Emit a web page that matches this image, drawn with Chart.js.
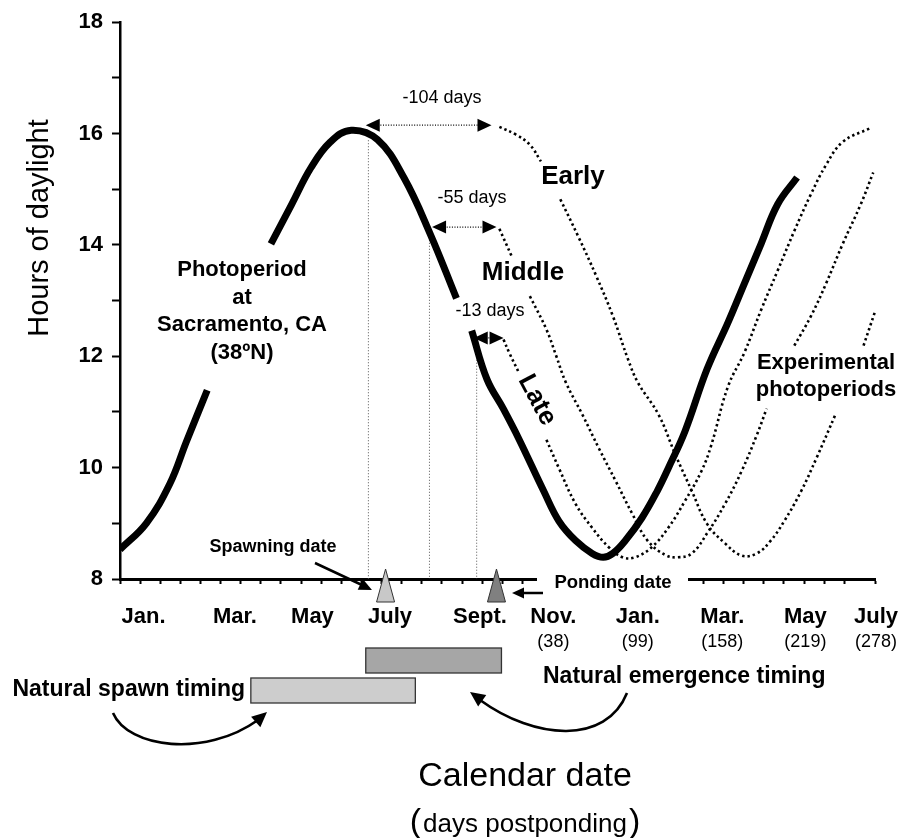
<!DOCTYPE html>
<html>
<head>
<meta charset="utf-8">
<script src="https://cdn.jsdelivr.net/npm/chart.js@4.4.1/dist/chart.umd.min.js"></script>
<style>
  html, body { margin: 0; background: #fff; }
  #wrap { width: 917px; height: 838px; }
</style>
</head>
<body>
<div id="wrap"><canvas id="photoChart"></canvas></div>
<script>
/* ============================================================
   Photoperiod at Sacramento + experimental shifted photoperiods
   x = days from 1 Jan (year 1), y = hours of daylight
============================================================ */

// --- axis labels ---
const monthTickDays = [17, 83, 139, 195, 260, 313, 374, 435, 495, 546];
const monthLabels   = ['Jan.', 'Mar.', 'May', 'July', 'Sept.', 'Nov.', 'Jan.', 'Mar.', 'May', 'July'];
const postDayTicks  = [313, 374, 435, 495, 546];
const postDayLabels = ['(38)', '(99)', '(158)', '(219)', '(278)'];

// --- Sacramento photoperiod (solid), null = gap under a label ---
const sacDays  = [0, 19, 36, 48, 63, 86, 109, 124, 138, 152, 167, 186, 205, 224, 243, 249,
                  254, 265, 277, 288, 306, 317, 329, 341, 349, 356, 365, 377, 388, 396, 408,
                  424, 439, 451, 463, 475, 489];
const sacHours = [8.53, 9.0, 9.71, 10.47, 11.39, null, 14.02, 14.73, 15.39, 15.85, 16.06, 15.89,
                  15.21, 14.2, 13.04, null, 12.46, 11.59, 11.05, 10.52, 9.58, 9.04, 8.69, 8.46,
                  8.39, 8.46, 8.69, 9.1, 9.58, 9.99, 10.65, 11.77, 12.6, 13.31, 14.02, 14.73, 15.21];

// --- experimental photoperiods (dotted) ---
const earlyDays  = [274, 286, 296, 304, 311, 318, 331, 344, 356, 367, 374, 389, 401, 413, 424,
                    437, 449, 460, 470, 480, 492, 503, 517, 527, 537, 545];
const earlyHours = [16.12, 15.98, 15.8, 15.5, null, 14.82, 14.15, 13.44, 12.72, 11.94, 11.53,
                    10.95, 10.24, 9.58, 8.99, 8.64, 8.42, 8.46, 8.69, 9.05, 9.58, 10.17, 10.97,
                    null, 12.19, 12.78];

const midDays  = [274, 283, 289, 296, 308, 315, 322, 334, 346, 358, 370, 381, 394, 403, 413,
                  424, 437, 449, 460, 467, 477, 487, 499, 510, 522, 535, 544];
const midHours = [14.29, 13.79, null, 13.08, 12.48, 12.01, 11.53, 10.95, 10.34, 9.76, 9.17,
                  8.69, 8.43, 8.39, 8.46, 8.82, 9.35, 9.94, 10.59, 11.06, null, 12.19, 12.72,
                  13.31, 14.02, 14.73, 15.3];

const lateDays  = [277, 281, 288, 298, 308, 317, 329, 341, 353, 363, 372, 384, 396, 408, 420,
                   427, 439, 451, 463, 475, 487, 499, 510, 522, 542];
const lateHours = [12.3, 12.07, 11.71, null, 10.5, 9.99, 9.35, 8.92, 8.57, 8.39, 8.39, 8.57,
                   8.92, 9.4, 9.94, 10.4, 11.45, 12.07, 12.83, 13.54, 14.25, 14.91, 15.44,
                   15.85, 16.1];

// --- thin drop lines from the solid curve to the axis ---
const dropDays  = [179.4, 223.5, 257.6];
const dropHours = [15.88, 14.2, 12.1];

// --- shift arrows (start day, end day, level, label) ---
const shiftFrom   = [177.5, 225.4, 255.5];
const shiftTo     = [268.3, 271.9, 277.0];
const shiftLevel  = [16.15, 14.32, 12.33];
const shiftLabels = ['-104 days', '-55 days', '-13 days'];

// --- date markers and timing bars ---
const spawnDay     = 191.8;
const pondDay      = 271.9;
const spawnRange   = [94.5, 213.3];
const emergeRange  = [177.5, 275.5];

const FONT = '"Liberation Sans", Arial, Helvetica, sans-serif';

const pts = (xs, ys) => xs.map((x, i) => ({ x: x, y: ys[i] }));

function curve(xs, ys, dotted) {
  return {
    data: pts(xs, ys),
    borderColor: '#000',
    borderWidth: dotted ? 2.6 : 7,
    borderDash: dotted ? [2.4, 3] : [],
    borderCapStyle: 'butt',
    borderJoinStyle: 'round',
    pointRadius: 0,
    fill: false,
    spanGaps: false,
    tension: 0.4
  };
}

const drops = dropDays.map((d, i) => ({
  data: [{ x: d, y: dropHours[i] }, { x: d, y: 8 }],
  borderColor: '#555',
  borderWidth: 1,
  borderDash: [1, 2],
  pointRadius: 0,
  tension: 0
}));

function label(ctx, s, x, y, size, bold, rot) {
  ctx.save();
  ctx.translate(x, y);
  if (rot) ctx.rotate(rot);
  ctx.font = (bold ? 'bold ' : '') + size + 'px ' + FONT;
  ctx.fillStyle = '#000';
  ctx.textAlign = 'center';
  ctx.textBaseline = 'middle';
  ctx.fillText(s, 0, 0);
  ctx.restore();
}

function head(ctx, x, y, ang, len, half) {
  ctx.save();
  ctx.translate(x, y);
  ctx.rotate(ang);
  ctx.beginPath();
  ctx.moveTo(0, 0);
  ctx.lineTo(-len, -half);
  ctx.lineTo(-len, half);
  ctx.closePath();
  ctx.fillStyle = '#000';
  ctx.fill();
  ctx.restore();
}

function triangle(ctx, cx, fill) {
  ctx.beginPath();
  ctx.moveTo(cx, 569);
  ctx.lineTo(cx + 9, 602);
  ctx.lineTo(cx - 9, 602);
  ctx.closePath();
  ctx.fillStyle = fill;
  ctx.fill();
  ctx.lineWidth = 1;
  ctx.strokeStyle = '#333';
  ctx.stroke();
}

const annotate = {
  id: 'annotate',
  afterDraw(chart) {
    const ctx = chart.ctx;
    const xs = chart.scales.x, ys = chart.scales.y;

    // shift arrows
    shiftFrom.forEach((d, i) => {
      const x0 = xs.getPixelForValue(d), x1 = xs.getPixelForValue(shiftTo[i]);
      const y = ys.getPixelForValue(shiftLevel[i]);
      ctx.save();
      ctx.strokeStyle = '#000';
      ctx.lineWidth = 1.2;
      ctx.setLineDash([1, 1.6]);
      ctx.beginPath();
      ctx.moveTo(x0 + 12, y);
      ctx.lineTo(x1 - 12, y);
      ctx.stroke();
      ctx.restore();
      head(ctx, x0, y, Math.PI, 14, 6.5);
      head(ctx, x1, y, 0, 14, 6.5);
    });
    label(ctx, shiftLabels[0], 442, 98, 18, false);
    label(ctx, shiftLabels[1], 472, 198, 18, false);
    label(ctx, shiftLabels[2], 490, 311, 18, false);

    // curve labels
    label(ctx, 'Early', 573, 177, 26, true);
    label(ctx, 'Middle', 523, 273, 26, true);
    label(ctx, 'Late', 537, 400, 26, true, 62 * Math.PI / 180);
    ['Photoperiod', 'at', 'Sacramento, CA', '(38ºN)'].forEach((s, i) =>
      label(ctx, s, 242, 270 + i * 27.7, 22, true));
    label(ctx, 'Experimental', 826, 363, 22, true);
    label(ctx, 'photoperiods', 826, 390, 22, true);

    // y title
    label(ctx, 'Hours of daylight', 40, 228, 29, false, -Math.PI / 2);

    // ponding date label box hides the axis
    ctx.fillStyle = '#fff';
    ctx.fillRect(537, 569, 151, 27);
    label(ctx, 'Ponding date', 613, 583, 18.5, true);

    // markers on the axis
    triangle(ctx, xs.getPixelForValue(spawnDay), '#c8c8c8');
    triangle(ctx, xs.getPixelForValue(pondDay), '#808080');

    // straight arrows
    ctx.save();
    ctx.strokeStyle = '#000';
    ctx.lineWidth = 2.5;
    ctx.beginPath();
    ctx.moveTo(315, 563); ctx.lineTo(362, 585);
    ctx.moveTo(543, 593); ctx.lineTo(522, 593);
    ctx.stroke();
    ctx.restore();
    head(ctx, 372, 590, Math.atan2(27, 57), 13, 6);
    head(ctx, 512, 593, Math.PI, 12, 5.5);
    label(ctx, 'Spawning date', 273, 547, 18, true);

    // timing bars
    const bar = (r, y, fill) => {
      const a = xs.getPixelForValue(r[0]), b = xs.getPixelForValue(r[1]);
      ctx.fillStyle = fill;
      ctx.fillRect(a, y, b - a, 25);
      ctx.lineWidth = 1.3;
      ctx.strokeStyle = '#333';
      ctx.strokeRect(a, y, b - a, 25);
    };
    bar(emergeRange, 648, '#a6a6a6');
    bar(spawnRange, 678, '#cdcdcd');

    ctx.save();
    ctx.font = 'bold 23px ' + FONT;
    ctx.fillStyle = '#000';
    ctx.textBaseline = 'middle';
    ctx.textAlign = 'right';
    ctx.fillText('Natural spawn timing', 245, 690);
    ctx.textAlign = 'left';
    ctx.fillText('Natural emergence timing', 543, 677);
    ctx.restore();

    // curved arrows
    ctx.save();
    ctx.strokeStyle = '#000';
    ctx.lineWidth = 2.6;
    ctx.beginPath();
    ctx.moveTo(113, 713);
    ctx.bezierCurveTo(128, 748, 205, 758, 258, 720);
    ctx.moveTo(627, 693);
    ctx.bezierCurveTo(606, 745, 535, 740, 480, 700);
    ctx.stroke();
    ctx.restore();
    head(ctx, 267, 712, -0.72, 15, 7);
    head(ctx, 470, 692, Math.PI + 0.62, 15, 7);

    // x title
    label(ctx, 'Calendar date', 525, 777, 34, false);
    ctx.save();
    ctx.fillStyle = '#000';
    ctx.textBaseline = 'middle';
    ctx.textAlign = 'left';
    const big = '34px ' + FONT, small = '26px ' + FONT;
    ctx.font = big;  const wp = ctx.measureText('(').width;
    ctx.font = small; const wt = ctx.measureText('days postponding').width;
    let x = 525 - (wt + 2 * wp + 4) / 2;
    ctx.font = big;   ctx.fillText('(', x, 823); x += wp + 2;
    ctx.font = small; ctx.fillText('days postponding', x, 825); x += wt + 2;
    ctx.font = big;   ctx.fillText(')', x, 823);
    ctx.restore();
  }
};

new Chart(document.getElementById('photoChart'), {
  type: 'line',
  data: {
    datasets: [
      curve(sacDays, sacHours, false),
      curve(earlyDays, earlyHours, true),
      curve(midDays, midHours, true),
      curve(lateDays, lateHours, true),
      ...drops
    ]
  },
  options: {
    responsive: true,
    maintainAspectRatio: false,
    animation: false,
    layout: { padding: { top: 16, right: 34, left: 0, bottom: 0 } },
    plugins: { legend: { display: false }, tooltip: { enabled: false } },
    scales: {
      x: {
        type: 'linear', position: 'bottom', weight: 0,
        min: 0, max: 546,
        ticks: { display: false, stepSize: 14.53 },
        grid: { drawOnChartArea: false, drawTicks: true, tickLength: 5, tickWidth: 2, tickColor: '#000' },
        border: { color: '#000', width: 3 },
        afterFit: s => { s.height = 6; }
      },
      xMonth: {
        type: 'linear', position: 'bottom', weight: 1,
        min: 0, max: 546,
        afterBuildTicks: s => { s.ticks = monthTickDays.map(v => ({ value: v })); },
        ticks: {
          autoSkip: false, maxRotation: 0, padding: 19,
          color: '#000', font: { family: FONT, size: 22, weight: 'bold' },
          callback: (v, i) => monthLabels[i]
        },
        grid: { display: false, drawTicks: false },
        border: { display: false },
        afterFit: s => { s.height = 46; }
      },
      xDays: {
        type: 'linear', position: 'bottom', weight: 2,
        min: 0, max: 546,
        afterBuildTicks: s => { s.ticks = postDayTicks.map(v => ({ value: v })); },
        ticks: {
          autoSkip: false, maxRotation: 0, padding: 0,
          color: '#000', font: { family: FONT, size: 18 },
          callback: (v, i) => postDayLabels[i]
        },
        grid: { display: false, drawTicks: false },
        border: { display: false },
        afterFit: s => { s.height = 207; }
      },
      y: {
        min: 8, max: 18,
        ticks: {
          stepSize: 1, padding: 9, color: '#000',
          font: { family: FONT, size: 22, weight: 'bold' },
          callback: v => (v % 2 === 0 ? v : '')
        },
        grid: { drawOnChartArea: false, drawTicks: true, tickLength: 8, tickWidth: 2, tickColor: '#000' },
        border: { color: '#000', width: 2.5 },
        afterFit: s => { s.width = 120; }
      }
    }
  },
  plugins: [annotate]
});
</script>
</body>
</html>
